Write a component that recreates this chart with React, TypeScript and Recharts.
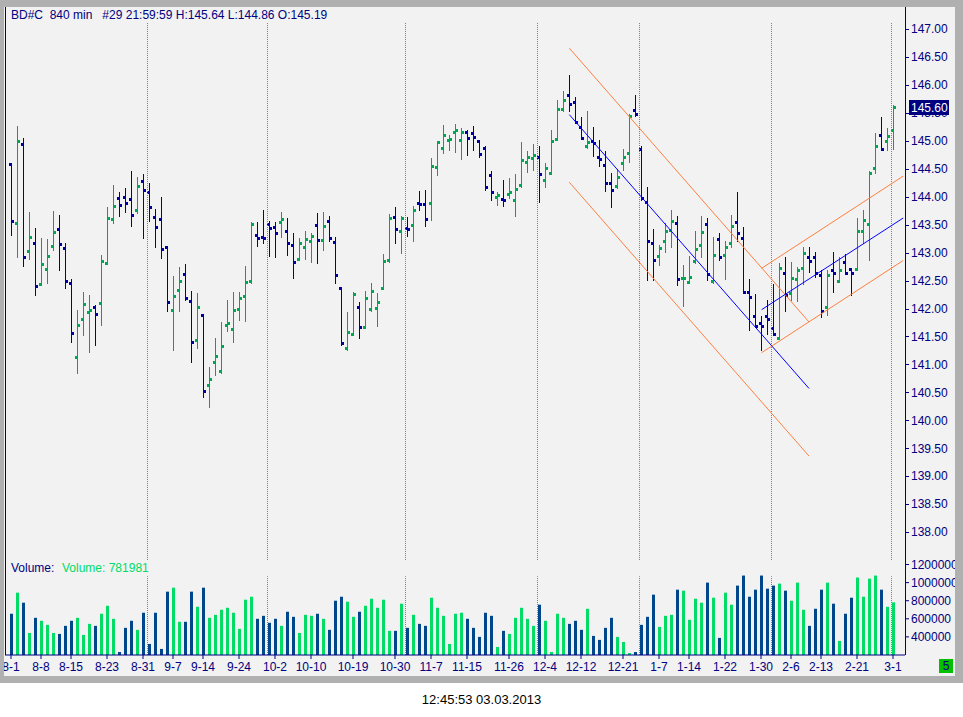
import React from "react";
import { ComposedChart, Bar, XAxis, YAxis, ReferenceLine } from "recharts";

// 840-minute bars, BD#C, 1 Aug 2012 .. 1 Mar 2013
const opens = [
  144.58, 143.53, 144.95, 143.03, 143.17, 142.44, 142.7, 143.12, 143.42, 143.09,
  142.45, 141.13, 141.81, 141.93, 142.03, 142.1, 142.81, 143.6, 143.97, 143.99,
  143.96, 143.76, 144.28, 144.09, 143.64, 143.6, 143.1, 141.97, 142.33, 142.61,
  142.13, 141.43, 141.88, 140.63, 141.04, 140.88, 141.71, 141.63, 141.99, 142.22,
  142.49, 143.31, 143.28, 143.52, 143.46, 143.55, 143.38, 143.14, 142.88, 143.1,
  143.21, 143.5, 143.22, 143.57, 143.19, 142.36, 141.29, 141.55, 142.02, 141.67,
  141.99, 142.01, 142.36, 142.87, 143.64, 143.38, 143.44, 143.5, 143.89, 143.87,
  143.89, 144.54, 144.88, 145.01, 145.16, 145.02, 145.16, 145.14, 145.0, 144.88,
  144.39, 144.0, 143.96, 144.05, 143.94, 144.21, 144.62, 144.69, 144.71, 144.3,
  144.42, 145.04, 145.57, 145.82, 145.7, 145.25, 144.91, 144.99, 144.72, 144.57,
  144.25, 144.2, 144.61, 144.78, 145.56, 144.86, 143.91, 143.18, 142.94, 143.21,
  143.4, 143.53, 142.54, 142.48, 142.85, 143.14, 143.51, 142.5, 143.25, 142.96,
  143.18, 143.55, 143.26, 142.3, 141.87, 141.75, 141.87, 141.66, 141.47, 142.63,
  142.27, 142.53, 142.72, 142.93, 142.92, 142.6, 142.02, 142.69, 142.5, 142.84,
  142.71, 142.7, 143.39, 143.52, 144.51, 145.11, 145.0, 145.19,
];
const highs = [
  144.6, 145.27, 145.05, 143.73, 143.44, 143.26, 143.24, 143.75, 143.68, 143.17,
  142.53, 141.98, 142.3, 142.24, 142.07, 142.96, 143.81, 144.21, 144.09, 144.16,
  144.46, 144.36, 144.41, 144.25, 143.78, 144.0, 143.12, 142.58, 142.74, 142.8,
  142.32, 142.28, 141.9, 140.96, 141.48, 141.76, 142.15, 142.3, 142.3, 142.76,
  143.55, 143.54, 143.77, 143.57, 143.54, 143.73, 143.62, 143.36, 143.26, 143.39,
  143.35, 143.71, 143.73, 143.65, 143.28, 142.39, 141.94, 142.29, 142.12, 142.31,
  142.46, 142.27, 142.98, 143.7, 143.82, 143.65, 143.64, 143.84, 144.11, 144.12,
  144.69, 145.0, 145.29, 145.11, 145.31, 145.23, 145.19, 145.27, 145.02, 144.91,
  144.46, 144.09, 144.3, 144.33, 144.4, 144.98, 144.82, 144.95, 144.9, 144.61,
  145.2, 145.73, 145.9, 146.18, 145.78, 145.42, 145.54, 145.25, 145.02, 144.82,
  144.43, 144.49, 144.86, 145.48, 145.82, 144.9, 144.18, 143.43, 143.14, 143.53,
  143.77, 143.66, 142.78, 142.94, 143.39, 143.65, 143.62, 143.28, 143.35, 143.21,
  143.68, 144.08, 143.46, 142.53, 142.26, 141.86, 142.15, 142.44, 142.81, 142.92,
  142.84, 142.74, 143.1, 143.11, 143.02, 142.69, 142.69, 143.02, 142.92, 142.98,
  142.72, 143.62, 143.77, 144.46, 145.14, 145.42, 145.23, 145.64,
];
const lows = [
  143.32, 142.93, 142.77, 142.89, 142.25, 142.42, 142.45, 143.04, 142.69, 142.37,
  141.41, 140.85, 141.53, 141.23, 141.35, 141.71, 142.79, 143.53, 143.65, 143.72,
  143.48, 143.71, 143.27, 143.56, 143.11, 142.91, 141.95, 141.25, 141.95, 142.15,
  141.05, 141.3, 140.41, 140.23, 140.81, 140.84, 141.59, 141.41, 141.8, 141.78,
  142.45, 143.12, 143.18, 142.94, 142.93, 143.28, 142.95, 142.54, 142.87, 142.88,
  142.84, 142.81, 143.04, 143.21, 142.45, 141.35, 141.26, 141.52, 141.48, 141.65,
  141.95, 141.69, 142.35, 142.84, 143.18, 143.0, 143.29, 143.21, 143.77, 143.47,
  143.59, 144.39, 144.78, 144.83, 144.81, 144.67, 144.74, 144.84, 144.71, 144.12,
  143.94, 143.86, 143.84, 143.97, 143.66, 144.17, 144.45, 144.48, 143.9, 144.17,
  144.41, 145.02, 145.54, 145.53, 145.32, 145.03, 144.87, 144.73, 144.55, 144.11,
  143.81, 144.16, 144.48, 144.63, 145.44, 143.94, 142.51, 142.51, 142.78, 143.02,
  143.11, 142.42, 142.05, 142.46, 142.81, 142.92, 142.51, 142.45, 142.87, 142.53,
  143.11, 143.2, 142.27, 141.62, 141.68, 141.26, 141.55, 141.53, 141.45, 141.95,
  142.15, 142.14, 142.44, 142.66, 142.57, 141.85, 141.89, 142.29, 142.48, 142.62,
  142.24, 142.69, 143.18, 142.87, 144.43, 144.83, 144.83, 144.86,
];
const closes = [
  143.56, 145.0, 142.92, 143.28, 142.4, 142.79, 142.94, 143.37, 143.15, 142.49,
  141.56, 141.7, 142.08, 141.98, 141.9, 142.85, 143.62, 143.84, 143.85, 143.89,
  143.67, 144.19, 144.12, 143.81, 143.46, 143.06, 142.11, 142.22, 142.49, 142.19,
  141.4, 142.02, 140.52, 140.74, 141.15, 141.33, 141.74, 141.98, 142.19, 142.47,
  143.51, 143.26, 143.26, 143.44, 143.35, 143.6, 143.17, 142.83, 143.17, 143.24,
  143.29, 143.22, 143.47, 143.26, 142.6, 141.38, 141.58, 142.26, 141.67, 142.19,
  142.31, 142.11, 142.85, 143.62, 143.43, 143.62, 143.42, 143.76, 143.87, 143.6,
  144.55, 144.98, 145.11, 145.04, 145.2, 145.16, 145.05, 145.07, 144.76, 144.17,
  144.08, 144.03, 143.94, 144.08, 144.14, 144.66, 144.72, 144.74, 144.4, 144.52,
  145.0, 145.57, 145.73, 145.66, 145.34, 145.05, 144.98, 144.97, 144.67, 144.25,
  144.12, 144.35, 144.72, 145.44, 145.48, 143.97, 143.21, 142.87, 143.08, 143.39,
  143.57, 142.53, 142.55, 142.56, 143.06, 143.37, 142.61, 142.96, 142.93, 143.11,
  143.47, 143.35, 142.3, 142.2, 141.69, 141.69, 141.81, 141.55, 142.72, 142.24,
  142.54, 142.69, 143.0, 142.85, 142.64, 141.95, 142.6, 142.63, 142.69, 142.64,
  142.63, 143.39, 143.59, 144.42, 144.91, 144.85, 145.08, 145.6,
];
const volumes = [
  656000, 889000, 778000, 444000, 611000, 578000, 533000, 444000, 433000, 522000,
  578000, 611000, 422000, 544000, 522000, 656000, 744000, 600000, 233000, 500000,
  578000, 478000, 667000, 322000, 667000, 267000, 900000, 944000, 567000, 567000,
  900000, 733000, 944000, 611000, 644000, 700000, 722000, 667000, 489000, 811000,
  844000, 600000, 633000, 556000, 600000, 522000, 678000, 622000, 444000, 644000,
  633000, 656000, 600000, 478000, 800000, 844000, 789000, 622000, 678000, 744000,
  822000, 722000, 811000, 467000, 467000, 767000, 500000, 644000, 544000, 522000,
  833000, 722000, 633000, 322000, 656000, 667000, 600000, 500000, 400000, 667000,
  633000, 289000, 467000, 433000, 611000, 722000, 600000, 522000, 756000, 578000,
  233000, 656000, 611000, 544000, 578000, 478000, 711000, 411000, 367000, 500000,
  611000, 400000, 344000, 222000, 233000, 533000, 622000, 867000, 511000, 633000,
  644000, 922000, 911000, 589000, 822000, 778000, 1000000, 833000, 389000, 889000,
  756000, 967000, 1078000, 844000, 922000, 1078000, 933000, 967000, 989000, 911000,
  800000, 1000000, 700000, 522000, 711000, 922000, 1000000, 767000, 356000, 656000,
  833000, 1056000, 844000, 1044000, 1078000, 922000, 733000, 781981,
];

// date axis: bar index -> label
const tickIndex = [0, 5, 10, 16, 22, 27, 32, 38, 44, 50, 57, 64, 70, 76, 83, 89, 95, 102, 108, 113, 119, 125, 130, 135, 141, 147];
const tickLabels = ["8-1", "8-8", "8-15", "8-23", "8-31", "9-7", "9-14", "9-24", "10-2", "10-10", "10-19", "10-30", "11-7", "11-15", "11-26", "12-4", "12-12", "12-21", "1-7", "1-14", "1-22", "1-30", "2-6", "2-13", "2-21", "3-1"];
// first bar of each new month (dotted separators)
const monthStarts = [23, 43, 66, 88, 105, 127, 147];

const priceTicks = [138, 138.5, 139, 139.5, 140, 140.5, 141, 141.5, 142, 142.5, 143, 143.5, 144, 144.5, 145, 145.5, 146, 146.5, 147];
const volumeTicks = [400000, 600000, 800000, 1000000, 1200000];

// drawn channels: [x1, y1, x2, y2] in bar index / price; middle one is the blue centre line
const downChannel = [
  [93.05, 146.66, 133, 141.76],
  [93.05, 145.47, 133, 140.57],
  [93.05, 144.26, 133, 139.36],
];
const upChannel = [
  [125.1, 142.72, 148.7, 144.37],
  [125.1, 141.98, 148.7, 143.62],
  [125.1, 141.21, 148.7, 142.86],
];

const NAVY = "#000080";
const UP = "#00a651";
const DOWN = "#0000a0";
const VOL_UP = "#00dc64";
const VOL_DOWN = "#00468a";
const GRID = "#808080";
const ORANGE = "#ff7f3f";
const FONT = "'Liberation Sans', Arial, sans-serif";

const bars = opens.map((o, i) => ({
  i,
  open: o,
  high: highs[i],
  low: lows[i],
  close: closes[i],
  range: [lows[i], highs[i]],
  vol: volumes[i],
}));
const last = bars.length - 1;

function OhlcShape(props: any) {
  const { x, y, width, height, payload } = props;
  const cx = Math.round(x + width / 2);
  const span = payload.high - payload.low || 1;
  const at = (v: number) => Math.round(y + ((payload.high - v) / span) * height);
  const top = Math.round(y);
  const bottom = Math.round(y + height);
  const color = payload.close >= payload.open ? UP : DOWN;
  return (
    <g fill={color}>
      <rect x={cx} y={top} width={1} height={Math.max(bottom - top + 1, 1)} />
      <rect x={cx - 2} y={at(payload.open) - 1} width={3} height={3} />
      <rect x={cx} y={at(payload.close) - 1} width={3} height={3} />
    </g>
  );
}

function VolShape(props: any) {
  const { x, y, width, height, payload } = props;
  const cx = Math.round(x + width / 2);
  const color = payload.close >= payload.open ? VOL_UP : VOL_DOWN;
  return <rect x={cx - 1} y={y} width={3} height={Math.max(height, 0)} fill={color} />;
}

function PriceTick(props: any) {
  const { x, y, payload } = props;
  const v = payload.value as number;
  if (v === closes[last]) {
    return (
      <g>
        <rect x={x - 2} y={Math.round(y) - 7} width={40} height={15} fill={NAVY} />
        <text x={x} y={y} dy="0.355em" fill="#ffffff" fontSize={12} fontFamily={FONT}>
          {v.toFixed(2)}
        </text>
      </g>
    );
  }
  const ly = Math.round(y) + 0.5;
  return (
    <g>
      <line x1={x - 6} x2={x - 2} y1={ly} y2={ly} stroke={NAVY} />
      <text x={x} y={y} dy="0.355em" fill={NAVY} fontSize={12} fontFamily={FONT}>
        {v.toFixed(2)}
      </text>
    </g>
  );
}

const dateLabel = (v: number) => {
  const k = tickIndex.indexOf(v);
  return k >= 0 ? tickLabels[k] : "";
};

export default function App() {
  const title = `BD#C  840 min   #29 21:59:59 H:${highs[last].toFixed(2)} L:${lows[last].toFixed(2)} O:${opens[last].toFixed(2)}`;
  return (
    <div style={{ position: "absolute", left: 0, top: 0, width: 963, height: 717, background: "#ffffff", fontFamily: FONT }}>
      <div style={{ position: "absolute", left: 0, top: 0, width: 963, height: 683, background: "#b0b0b0" }} />
      <div style={{ position: "absolute", left: 4, top: 7, width: 951, height: 669, background: "#f2f2f2", overflow: "hidden" }}>
        <div style={{ position: "absolute", left: -4, top: -7 }}>
          <ComposedChart width={955} height={560} data={bars} margin={{ top: 23, right: 0, bottom: 0, left: 5 }}>
            <XAxis type="number" dataKey="i" domain={[-1, 149]} hide allowDataOverflow />
            <YAxis
              orientation="right"
              width={50}
              domain={[137.5, 147.11]}
              allowDataOverflow
              ticks={[...priceTicks, closes[last]]}
              interval={0}
              axisLine={false}
              tickLine={false}
              tickSize={4}
              tick={<PriceTick />}
            />
            {monthStarts.map((m) => (
              <ReferenceLine key={m} x={m - 0.25} stroke={GRID} strokeDasharray="1 1" />
            ))}
            {[downChannel, upChannel].map((ch, c) =>
              ch.map((s, k) => (
                <ReferenceLine
                  key={`${c}-${k}`}
                  segment={[{ x: s[0], y: s[1] }, { x: s[2], y: s[3] }]}
                  stroke={k === 1 ? "#0000ff" : ORANGE}
                  strokeWidth={1}
                />
              ))
            )}
            <Bar dataKey="range" barSize={4} shape={(p: any) => <OhlcShape {...p} />} isAnimationActive={false} />
          </ComposedChart>
        </div>

        <div style={{ position: "absolute", left: -4, top: 553 }}>
          <ComposedChart width={955} height={115} data={bars} margin={{ top: 0, right: 0, bottom: 0, left: 5 }}>
            <XAxis
              type="number"
              dataKey="i"
              domain={[-1, 149]}
              allowDataOverflow
              ticks={tickIndex}
              interval={0}
              tickFormatter={dateLabel}
              height={20}
              tickSize={4}
              tickMargin={3}
              axisLine={{ stroke: NAVY }}
              tickLine={{ stroke: NAVY }}
              tick={{ fill: NAVY, fontSize: 12, fontFamily: FONT }}
            />
            <YAxis
              orientation="right"
              width={50}
              domain={[200000, 1250000]}
              allowDataOverflow
              ticks={volumeTicks}
              interval={0}
              tickFormatter={(v: number) => String(v)}
              axisLine={false}
              tickSize={4}
              tickLine={{ stroke: NAVY }}
              tick={{ fill: NAVY, fontSize: 12, fontFamily: FONT }}
            />
            {monthStarts.map((m) => (
              <ReferenceLine
                key={m}
                segment={[{ x: m - 0.25, y: 200000 }, { x: m - 0.25, y: 1070000 }]}
                stroke={GRID}
                strokeDasharray="1 1"
              />
            ))}
            <Bar dataKey="vol" barSize={4} shape={(p: any) => <VolShape {...p} />} isAnimationActive={false} />
          </ComposedChart>
        </div>

        {/* pane borders */}
        <div style={{ position: "absolute", left: 1, top: 0, width: 1, height: 648, background: NAVY }} />
        <div style={{ position: "absolute", left: 901, top: 0, width: 1, height: 648, background: NAVY }} />

        <div style={{ position: "absolute", left: 7, top: 1, fontSize: 12, lineHeight: "14px", color: NAVY, whiteSpace: "pre" }}>
          {title}
        </div>
        <div style={{ position: "absolute", left: 7, top: 554, fontSize: 12, lineHeight: "14px", color: NAVY, whiteSpace: "pre" }}>
          Volume:
        </div>
        <div style={{ position: "absolute", left: 58, top: 554, fontSize: 12, lineHeight: "14px", color: VOL_UP, whiteSpace: "pre" }}>
          {`Volume: ${volumes[last]}`}
        </div>
        <div
          style={{
            position: "absolute",
            left: 935,
            top: 652,
            width: 14,
            height: 14,
            background: "#00c000",
            color: NAVY,
            fontSize: 12,
            lineHeight: "14px",
            textAlign: "center",
          }}
        >
          5
        </div>
      </div>
      <div style={{ position: "absolute", left: 0, top: 692, width: 963, textAlign: "center", fontSize: 13, lineHeight: "16px", color: "#000000" }}>
        12:45:53 03.03.2013
      </div>
    </div>
  );
}
